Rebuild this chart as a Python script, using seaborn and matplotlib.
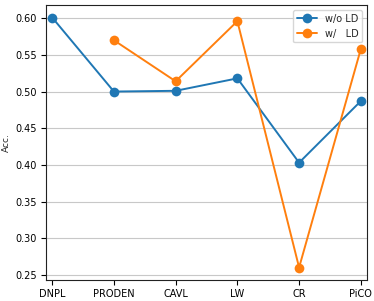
import numpy as np
import pandas as pd
import seaborn as sns

import matplotlib.pyplot as plt

methods = ['DNPL', 'PRODEN', 'CAVL', 'LW', 'CR', 'PiCO']
acc_wo_ld = [0.601, 0.500, 0.501, 0.518, 0.403, 0.487]
acc_w_ld = [np.nan, 0.570, 0.514, 0.596, 0.260, 0.558]
labels = ['w/o LD', 'w/   LD']

sns.set_style('ticks')
plt.rcParams['font.family'] = ['DejaVu Sans']
plt.rcParams['font.size'] = 7

fig, ax = plt.subplots(figsize=(3.74, 3.01), dpi=100)
x = np.arange(len(methods))
for vals, lab, col in zip([acc_wo_ld, acc_w_ld], labels, ['#1f77b4', '#ff7f0e']):
    df = pd.DataFrame({'x': x, 'acc': vals}).dropna()
    sns.lineplot(data=df, x='x', y='acc', marker='o', markersize=7, markeredgewidth=0,
                 color=col, label=lab, linewidth=1.4, ax=ax)

ax.set_xticks(x)
ax.set_xticklabels(methods)
ax.set_xlim(-0.1, 5.1)
ax.set_yticks([0.25, 0.30, 0.35, 0.40, 0.45, 0.50, 0.55, 0.60])
ax.yaxis.grid(True, color='#c8c8c8', linewidth=0.8)
ax.set_xlabel('')
ax.set_ylabel('Acc.', fontsize=6.5, labelpad=3)
ax.tick_params(labelsize=7, colors='black', length=3.5, width=0.8, pad=3)
for s in ax.spines.values():
    s.set_color('#222222')
ax.legend(loc='upper right', fontsize=7)
fig.subplots_adjust(left=46 / 374, right=367 / 374, top=1 - 5 / 301, bottom=1 - 280 / 301)
plt.savefig('out.png')
